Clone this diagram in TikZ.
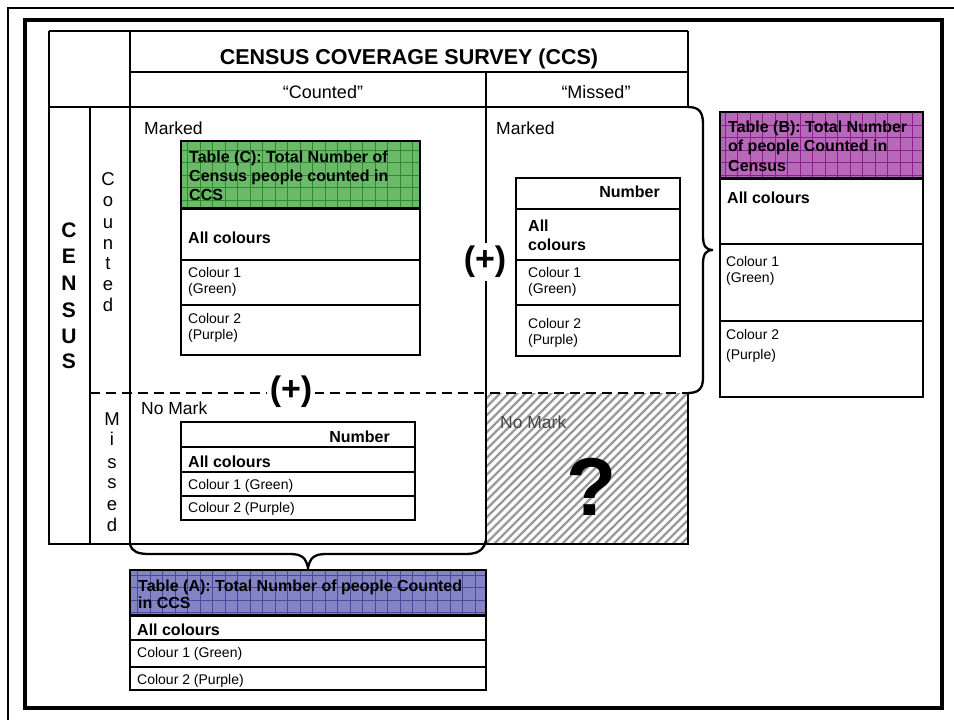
\documentclass[tikz,border=0pt]{standalone}
\usepackage{fontspec}
\setmainfont{Liberation Sans}
\definecolor{cgreen}{HTML}{6ABA6A}
\definecolor{cgreenl}{HTML}{2E8B2E}
\definecolor{cpurp}{HTML}{B868B8}
\definecolor{cpurpl}{HTML}{8E1E8E}
\definecolor{cblue}{HTML}{8484C4}
\definecolor{cbluel}{HTML}{4848A0}
\definecolor{hatchc}{HTML}{9A9A9A}
\newcommand\fsz[1]{\fontsize{#1}{#1}\selectfont}
\tikzset{
  frameline/.style={line width=2.8pt},
  tbl/.style={line width=2.3pt},
  rowline/.style={line width=1.1pt},
  hdline/.style={line width=3pt},
  lbl/.style={anchor=base west, inner sep=0pt, font=\fsz{17.5}},
  coltxt/.style={anchor=base west, inner sep=0pt, font=\fsz{14}},
  boldtxt/.style={anchor=base west, inner sep=0pt, font=\bfseries\fsz{16}},
  numtxt/.style={anchor=base east, inner sep=0pt, font=\bfseries\fsz{16}},
  plus/.style={fill=white, inner sep=3pt, font=\bfseries\fsz{34}},
  vletter/.style={anchor=base, inner sep=0pt},
  bracestyle/.style={line width=2.3pt},
}
\begin{document}
\begin{tikzpicture}[x=1pt,y=-1pt]
\useasboundingbox (0,0) rectangle (954,720);
% page frames
\draw[line width=2.5pt] (8,720) -- (8,8) -- (954,8);
\draw[line width=4pt] (25,20) rectangle (942,708);

% hatched cell
\begin{scope}
  \clip (486,393) rectangle (688,544);
  \foreach \i in {0,...,46} \draw[hatchc, line width=2.2pt] ({320+\i*8.5},548) -- ++(170,-170);
\end{scope}

% main grid
\draw[frameline] (49,31) -- (688,31);
\draw[frameline] (130,72) -- (688,72);
\draw[frameline] (49,107) -- (688,107);
\draw[frameline] (49,31) -- (49,544) -- (486,544);
\draw[frameline] (90,107) -- (90,544);
\draw[frameline] (130,31) -- (130,544);
\draw[frameline] (486,72) -- (486,544);
\draw[frameline] (688,31) -- (688,107);
\draw[line width=2.3pt] (688,393) -- (688,544) -- (486,544);
\draw[line width=2.5pt, dash pattern=on 10pt off 6pt] (90,393) -- (688,393);

% braces
\coordinate (brA1) at (130,544);
\coordinate (brAtip) at (308,568);
\coordinate (brA2) at (486,540);
\coordinate (brB1) at (688,107);
\coordinate (brBtip) at (713,250);
\coordinate (brB2) at (688,393);
\draw[bracestyle] (brA1) .. controls (132,552) and (138,554) .. (150,554) -- (290,554)
   .. controls (302,554) and (306,558) .. (brAtip)
   .. controls (310,558) and (314,554) .. (326,554) -- (466,554)
   .. controls (478,554) and (484,550) .. (brA2);
\draw[bracestyle] (brB1) .. controls (699,107) and (703,112) .. (703,124) -- (703,236)
   .. controls (703,246) and (706,250) .. (brBtip)
   .. controls (706,250) and (703,254) .. (703,264) -- (703,378)
   .. controls (703,389) and (698,393) .. (brB2);

% headings
\node[anchor=base, inner sep=0pt, font=\bfseries\fsz{21.5}] (title) at (409,64.5) {CENSUS COVERAGE SURVEY (CCS)};
\node[anchor=base, inner sep=0pt, font=\fsz{18}] (hcount) at (323,98) {“Counted”};
\node[anchor=base, inner sep=0pt, font=\fsz{18}] (hmiss) at (596,98) {“Missed”};
\node[lbl] (mk1) at (144,134) {Marked};
\node[lbl] (mk2) at (496,134) {Marked};
\node[lbl] (nm1) at (141,414) {No Mark};
\node[lbl, text=black!72] (nm2) at (500,428) {No Mark};
\node[anchor=base, inner sep=0pt, font=\bfseries\fsz{82}] (qm) at (592,515) {?};

% vertical words
\foreach \l/\yy [count=\i] in {C/237,E/263,N/290,S/317,U/343,S/368}
  \node[vletter, font=\bfseries\fsz{21}] (cen\i) at (69,\yy) {\l};
\foreach \l/\yy [count=\i] in {C/185,o/206,u/228,n/249,t/269,e/290,d/311}
  \node[vletter, font=\fsz{18.5}] (cnt\i) at (108,\yy) {\l};
\foreach \l/\yy [count=\i] in {M/425,i/445,s/468,s/488,e/510,d/531}
  \node[vletter, font=\fsz{18.5}] (mis\i) at (112,\yy) {\l};

% plus signs
\node[plus] (plus1) at (485,262) {(+)};
\node[plus] (plus2) at (291,392) {(+)};

% ---- Table C ----
\begin{scope}
  \clip (181,141) rectangle (420,208);
  \fill[cgreen] (181,141) rectangle (420,208);
  \draw[cgreenl, line width=0.6pt, step=12.5pt] (170,130) grid (430,220);
\end{scope}
\draw[tbl] (181,141) rectangle (420,355);
\draw[hdline] (181,208) -- (420,208);
\draw[rowline] (181,260) -- (420,260);
\draw[rowline] (181,305) -- (420,305);
\node[boldtxt] (tc1) at (189,162) {Table (C): Total Number of};
\node[boldtxt] (tc2) at (189,181) {Census people counted in};
\node[boldtxt] (tc3) at (189,200) {CCS};
\node[boldtxt] (tca) at (188,243) {All colours};
\node[coltxt] (tcg1) at (188,277) {Colour 1};
\node[coltxt] (tcg2) at (188,293) {(Green)};
\node[coltxt] (tcp1) at (188,323) {Colour 2};
\node[coltxt] (tcp2) at (188,339) {(Purple)};

% ---- Missed / Marked table ----
\draw[tbl] (516,178) rectangle (680,356);
\draw[line width=1.8pt] (516,209) -- (680,209);
\draw[rowline] (516,260) -- (680,260);
\draw[rowline] (516,305) -- (680,305);
\node[numtxt] (mmn) at (660,197) {Number};
\node[boldtxt] (mma1) at (528,231) {All};
\node[boldtxt] (mma2) at (528,250) {colours};
\node[coltxt] (mmg1) at (528,277) {Colour 1};
\node[coltxt] (mmg2) at (528,293) {(Green)};
\node[coltxt] (mmp1) at (528,328) {Colour 2};
\node[coltxt] (mmp2) at (528,344) {(Purple)};

% ---- No Mark table ----
\draw[tbl] (181,422) rectangle (415,520);
\draw[line width=2.3pt] (181,447) -- (415,447);
\draw[rowline] (181,472) -- (415,472);
\draw[rowline] (181,496) -- (415,496);
\node[numtxt] (nmn) at (390,442) {Number};
\node[boldtxt] (nma) at (188,467) {All colours};
\node[coltxt] (nmg) at (188,489) {Colour 1 (Green)};
\node[coltxt] (nmp) at (188,512) {Colour 2 (Purple)};

% ---- Table A ----
\begin{scope}
  \clip (130,570) rectangle (486,615);
  \fill[cblue] (130,570) rectangle (486,615);
  \draw[cbluel, line width=0.6pt, step=12.5pt] (120,560) grid (500,625);
\end{scope}
\draw[tbl] (130,570) rectangle (486,690);
\draw[hdline] (130,615) -- (486,615);
\draw[rowline] (130,640) -- (486,640);
\draw[rowline] (130,667) -- (486,667);
\node[boldtxt] (ta1) at (138,591) {Table (A): Total Number of people Counted};
\node[boldtxt] (ta2) at (138,608) {in CCS};
\node[boldtxt] (taa) at (137,635) {All colours};
\node[coltxt] (tag) at (137,657) {Colour 1 (Green)};
\node[coltxt] (tap) at (137,684) {Colour 2 (Purple)};

% ---- Table B ----
\begin{scope}
  \clip (720,112) rectangle (923,178);
  \fill[cpurp] (720,112) rectangle (923,178);
  \draw[cpurpl, line width=0.6pt, step=12.5pt] (710,100) grid (930,190);
\end{scope}
\draw[tbl] (720,112) rectangle (923,397);
\draw[hdline] (720,178) -- (923,178);
\draw[rowline] (720,244) -- (923,244);
\draw[rowline] (720,321) -- (923,321);
\node[boldtxt] (tb1) at (728,132) {Table (B): Total Number};
\node[boldtxt] (tb2) at (728,151) {of people Counted in};
\node[boldtxt] (tb3) at (728,171) {Census};
\node[boldtxt] (tba) at (727,203) {All colours};
\node[coltxt] (tbg1) at (726,266) {Colour 1};
\node[coltxt] (tbg2) at (726,282) {(Green)};
\node[coltxt] (tbp1) at (726,339) {Colour 2};
\node[coltxt] (tbp2) at (726,359) {(Purple)};
\end{tikzpicture}
\end{document}
